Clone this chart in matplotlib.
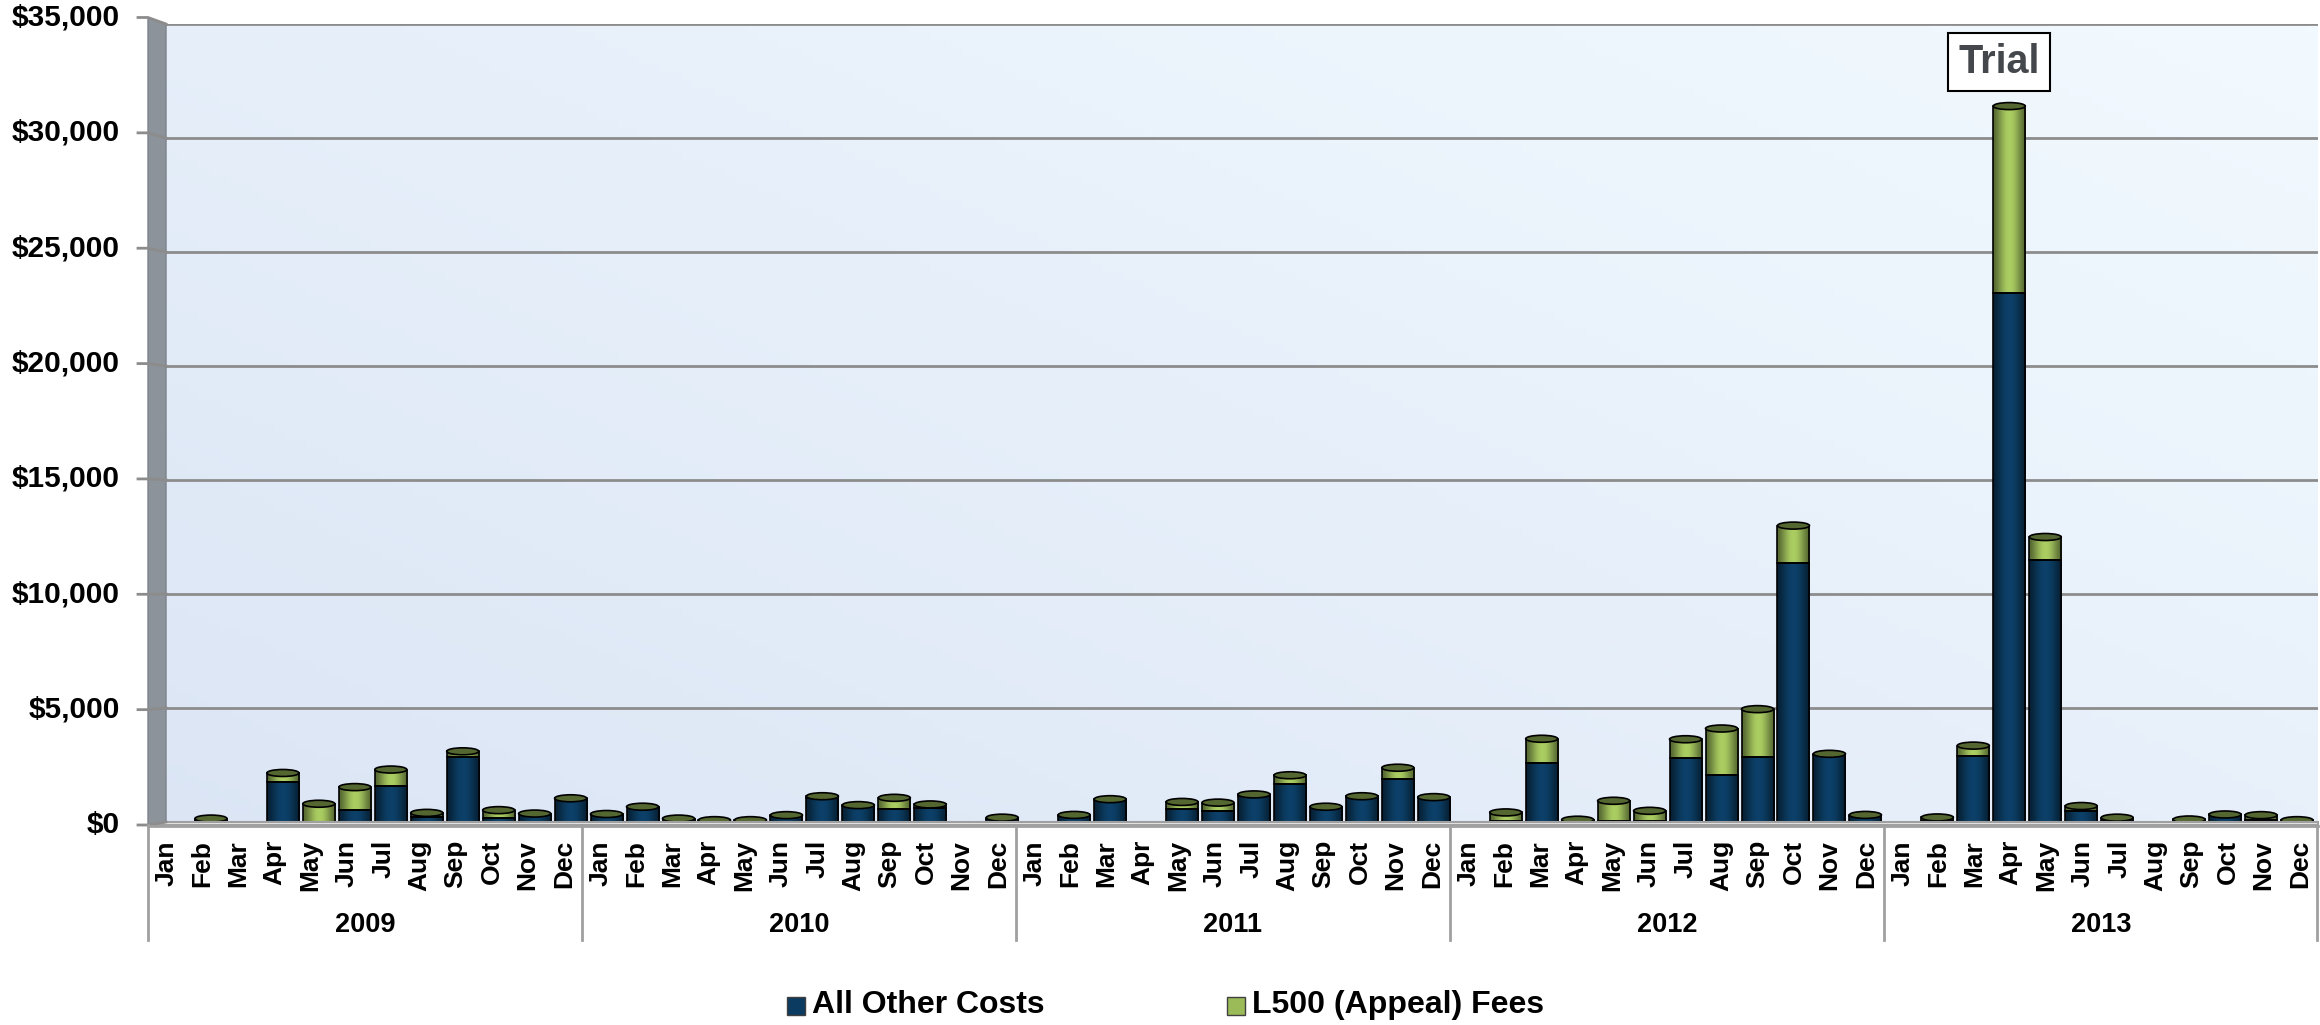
import matplotlib.pyplot as plt
from matplotlib.patches import Rectangle, Ellipse, Polygon
from matplotlib.lines import Line2D
import numpy as np

plt.rcParams['font.family'] = ['Liberation Sans', 'DejaVu Sans']

# ---- data ----
month_names = ['Jan', 'Feb', 'Mar', 'Apr', 'May', 'Jun',
               'Jul', 'Aug', 'Sep', 'Oct', 'Nov', 'Dec']
years = ['2009', '2010', '2011', '2012', '2013']

other_2009 = [0, 90, 0, 1750, 0, 530, 1600, 200, 2850, 170, 330, 1000]
other_2010 = [300, 650, 120, 50, 50, 250, 1050, 700, 570, 600, 0, 150]
other_2011 = [0, 250, 980, 0, 550, 500, 1150, 1650, 640, 1080, 1900, 1050]
other_2012 = [0, 50, 2600, 80, 30, 30, 2800, 2050, 2850, 11350, 2950, 250]
other_2013 = [0, 30, 2900, 23200, 11500, 500, 40, 0, 80, 300, 100, 60]

l500_2009 = [0, 60, 0, 400, 800, 1000, 700, 200, 250, 350, 40, 40]
l500_2010 = [50, 20, 30, 30, 30, 50, 80, 40, 490, 170, 0, 40]
l500_2011 = [0, 60, 20, 0, 330, 350, 60, 400, 30, 50, 480, 40]
l500_2012 = [0, 370, 1050, 20, 900, 460, 830, 2050, 2100, 1650, 40, 60]
l500_2013 = [0, 170, 450, 8200, 1000, 200, 150, 0, 30, 30, 200, 20]

other = other_2009 + other_2010 + other_2011 + other_2012 + other_2013
l500 = l500_2009 + l500_2010 + l500_2011 + l500_2012 + l500_2013
months = month_names * len(years)

y_ticks = [0, 5000, 10000, 15000, 20000, 25000, 30000, 35000]
y_labels = ['$' + format(v, ',') for v in y_ticks]

series_names = ['All Other Costs', 'L500 (Appeal) Fees']
blue = '#0b3b60'
green = '#9bbb59'

# ---- figure geometry (pixels) ----
W, H = 2320, 1025
fig = plt.figure(figsize=(W / 100, H / 100), dpi=100)


def fx(x):
    return x / W


def fy(y):
    return 1 - y / H


wall_l, wall_r, wall_t, wall_b = 166, 2318, 24, 822
front_l, front_t, front_b = 148, 17.5, 825
ymax = 35000

ax = fig.add_axes([fx(wall_l), fy(wall_b), fx(wall_r) - fx(wall_l), fy(wall_t) - fy(wall_b)])
ax.set_axis_off()

# background gradient of the back wall
gx, gy = np.meshgrid(np.linspace(0, 1, 200), np.linspace(0, 1, 100))
t = np.clip(0.55 * gx + 0.45 * gy, 0, 1)
c0 = np.array([0.86, 0.90, 0.96])
c1 = np.array([0.95, 0.98, 1.0])
bg = c0[None, None, :] * (1 - t[..., None]) + c1[None, None, :] * t[..., None]
ax.imshow(bg, extent=[0, 1, 0, 1], transform=ax.transAxes, origin='lower',
          aspect='auto', zorder=0)

# map bars: first at px 175, last at px 2297
n = len(months)
x_first, x_last = 175, 2297
f0 = (x_first - wall_l) / (wall_r - wall_l)
f1 = (x_last - wall_l) / (wall_r - wall_l)
span = (n - 1) / (f1 - f0)
xmin = -f0 * span
ax.set_xlim(xmin, xmin + span)
ax.set_ylim(0, ymax)

for v in y_ticks[1:]:
    ax.axhline(v, color='#8c8c8c', lw=2, zorder=1)


def grad(c, n_pts=64):
    c = np.array(plt.matplotlib.colors.to_rgb(c))
    s = np.linspace(0, 1, n_pts)
    # dark edges, lighter middle
    k = 0.55 + 0.55 * np.sin(np.pi * s) ** 1.5
    k = np.clip(k, 0, 1.12)
    arr = np.clip(c[None, :] * k[:, None], 0, 1)
    return arr[None, :, :]


bw = 0.89
px_per_y = (wall_b - wall_t) / ymax
cap_h = 7 / px_per_y
blue_g = grad(blue)
green_g = grad(green)

for i in range(n):
    tot = other[i] + l500[i]
    if tot <= 0:
        continue
    x0, x1 = i - bw / 2, i + bw / 2
    segs = [(0, other[i], blue, blue_g), (other[i], tot, green, green_g)]
    # rounded bottom
    bottom_col = blue if other[i] > 0 else green
    ax.add_patch(Ellipse((i, 0), bw, cap_h, facecolor=bottom_col, edgecolor='black',
                         lw=1.2, zorder=2, clip_on=False))
    for y0, y1, col, g in segs:
        if y1 - y0 <= 0:
            continue
        ax.imshow(g, extent=[x0, x1, y0, y1], aspect='auto', zorder=3,
                  interpolation='bilinear', clip_on=False)
        ax.add_patch(Rectangle((x0, y0), bw, y1 - y0, fill=False, edgecolor='black',
                               lw=1.2, zorder=4, clip_on=False))
    top_col = green if l500[i] > 0 else blue
    cap = np.array(plt.matplotlib.colors.to_rgb(top_col)) * 0.55
    ax.add_patch(Ellipse((i, tot), bw, cap_h, facecolor=cap, edgecolor='black',
                         lw=1.2, zorder=5, clip_on=False))

ax.set_xlim(xmin, xmin + span)
ax.set_ylim(0, ymax)

# ---- left wall and floor ----
wall = Polygon([(fx(front_l), fy(front_t)), (fx(wall_l), fy(wall_t)),
                (fx(wall_l), fy(wall_b)), (fx(front_l), fy(front_b))],
               closed=True, transform=fig.transFigure, facecolor='#8d939a',
               edgecolor='#7d838a', lw=1, zorder=1)
fig.patches.append(wall)
floor = Polygon([(fx(front_l), fy(front_b)), (fx(wall_l), fy(wall_b)),
                 (fx(wall_r), fy(wall_b)), (fx(wall_r), fy(front_b))],
                closed=True, transform=fig.transFigure, facecolor='#e8e8e8',
                edgecolor='#a0a0a0', lw=1.5, zorder=1)
fig.patches.append(floor)

# y ticks on the front edge, grid continued over the side wall
step_front = (front_b - front_t) / (len(y_ticks) - 1)
for k, (v, lab) in enumerate(zip(y_ticks, y_labels)):
    yf = front_b - k * step_front
    yb = wall_b - v * px_per_y
    fig.lines.append(Line2D([fx(138), fx(front_l), fx(wall_l)], [fy(yf), fy(yf), fy(yb)],
                            transform=fig.transFigure, color='#8c8c8c', lw=2))
    fig.text(fx(120), fy(yf), lab, ha='right', va='center', fontsize=21.5,
             fontweight='bold', color='black')

# ---- category axis (two levels) ----
cat_r = 2318
mw = (cat_r - front_l) / n
fig.lines.append(Line2D([fx(front_l), fx(cat_r)], [fy(front_b + 1), fy(front_b + 1)],
                        transform=fig.transFigure, color='#a0a0a0', lw=2))
for i, m in enumerate(months):
    xc = front_l + mw * (i + 0.5)
    fig.text(fx(xc), fy(840), m, rotation=90, ha='center', va='top',
             fontsize=19, fontweight='bold')
for j, yr in enumerate(years):
    xs = front_l + mw * 12 * j
    fig.lines.append(Line2D([fx(xs), fx(xs)], [fy(front_b), fy(940)],
                            transform=fig.transFigure, color='#a0a0a0', lw=2))
    fig.text(fx(xs + mw * 6), fy(925), yr, ha='center', va='center',
             fontsize=19.5, fontweight='bold')
fig.lines.append(Line2D([fx(cat_r - 1), fx(cat_r - 1)], [fy(front_b), fy(940)],
                        transform=fig.transFigure, color='#a0a0a0', lw=2))

# ---- legend ----
for name, col, sx in zip(series_names, [blue, green], [787, 1227]):
    fig.patches.append(Rectangle((fx(sx), fy(1015)), fx(18), 18 / H, transform=fig.transFigure,
                                 facecolor=col, edgecolor='#404040', lw=1))
    fig.text(fx(sx + 25), fy(1005), name, ha='left', va='center', fontsize=23,
             fontweight='bold')

# ---- annotation ----
fig.text(fx(1999), fy(62), 'Trial', ha='center', va='center', fontsize=28.5,
         fontweight='bold', color='#44484c',
         bbox=dict(boxstyle='square,pad=0.25', facecolor='white', edgecolor='black', lw=1.5))

fig.savefig('out.png', dpi=100)
